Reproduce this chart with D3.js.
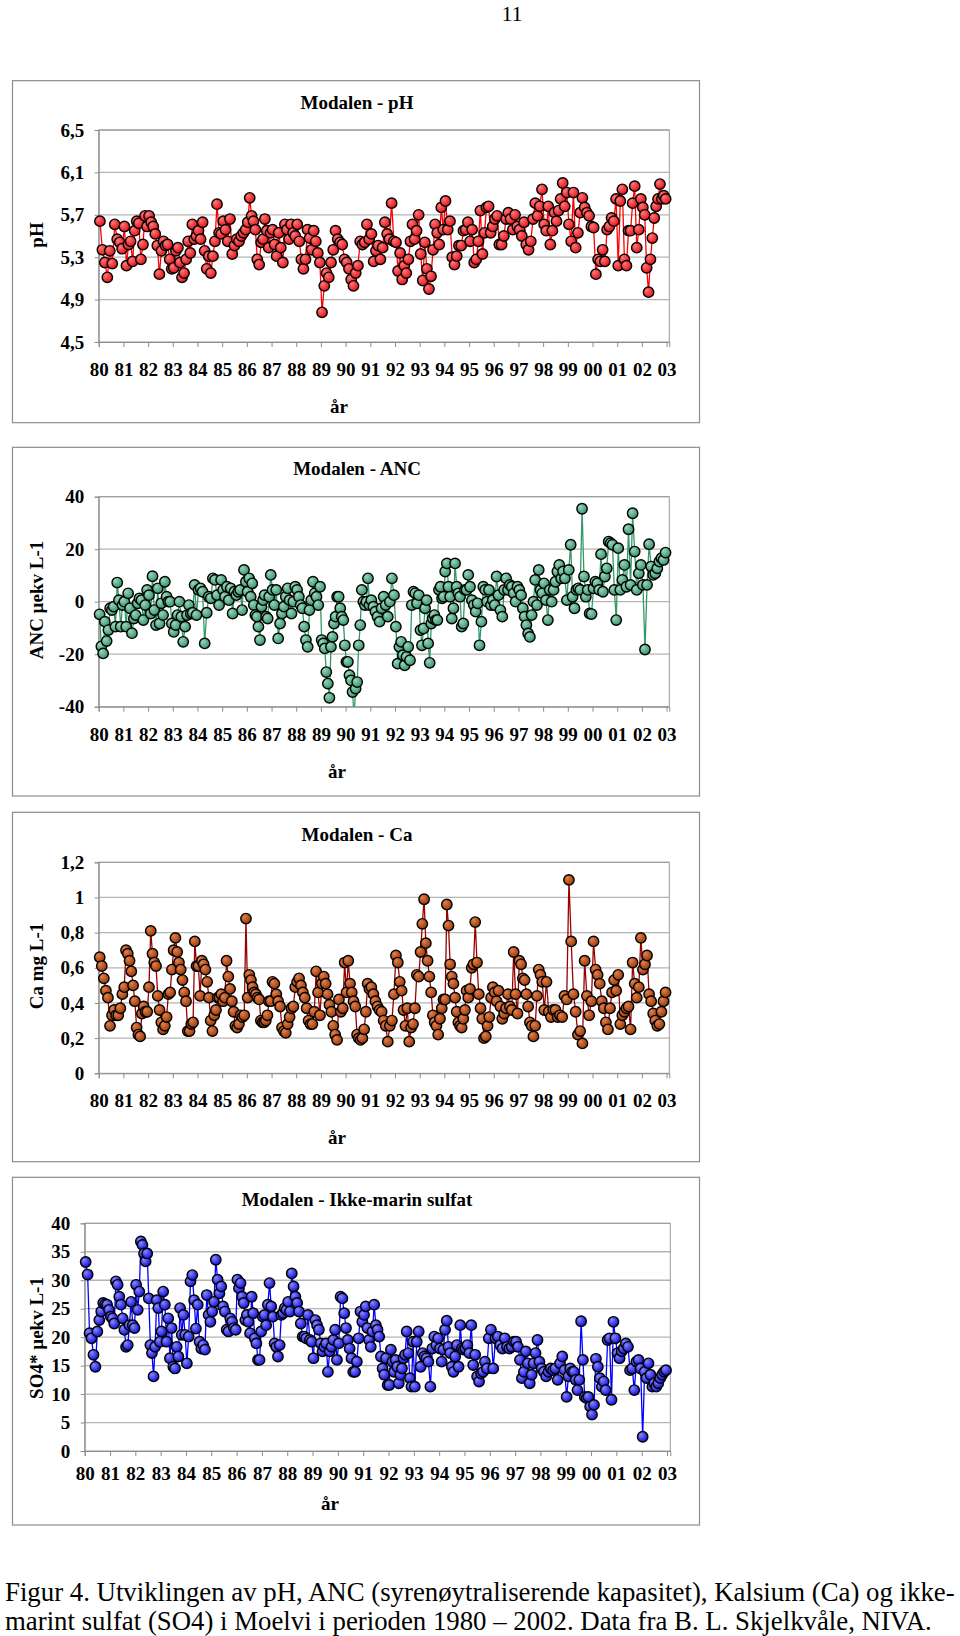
<!DOCTYPE html>
<html><head><meta charset="utf-8">
<script src="https://cdn.jsdelivr.net/npm/d3@7"></script>
<style>
body{margin:0;background:#fff}
svg{display:block}
text{font-family:"Liberation Serif","Times New Roman",serif}
</style>
</head><body>
<svg id="c" width="960" height="1636"></svg>
<script>
// ---------------- DATA ----------------
const years = d3.range(1980, 2003); // sampling years 1980..2002
const xTickYears = d3.range(1980, 2004);
const xTickLabels = ["80","81","82","83","84","85","86","87","88","89","90","91","92","93","94","95","96","97","98","99","00","01","02","03"];

const phTicks = [4.5, 4.9, 5.3, 5.7, 6.1, 6.5];
const phTickLabels = ["4,5","4,9","5,3","5,7","6,1","6,5"];
const ancTicks = [-40, -20, 0, 20, 40];
const ancTickLabels = ["-40","-20","0","20","40"];
const caTicks = [0, 0.2, 0.4, 0.6, 0.8, 1.0, 1.2];
const caTickLabels = ["0","0,2","0,4","0,6","0,8","1","1,2"];
const so4Ticks = [0, 5, 10, 15, 20, 25, 30, 35, 40];
const so4TickLabels = ["0","5","10","15","20","25","30","35","40"];

// pH, samples per year (1980..2002)
const phByYear = [
 [5.64,5.37,5.25,5.11,5.36,5.24,5.61,5.47,5.44,5.38],
 [5.59,5.22,5.42,5.45,5.26,5.55,5.64,5.62,5.28,5.42,5.69,5.59],
 [5.69,5.63,5.59,5.52,5.41,5.14,5.36,5.45,5.41,5.42,5.28,5.19],
 [5.20,5.36,5.39,5.25,5.11,5.15,5.28,5.45,5.34,5.61,5.47,5.50],
 [5.55,5.47,5.63,5.36,5.19,5.31,5.15,5.31,5.45,5.80,5.53,5.52],
 [5.64,5.56,5.45,5.66,5.33,5.41,5.47,5.45,5.50,5.53,5.56],
 [5.63,5.86,5.69,5.64,5.56,5.28,5.23,5.44,5.47,5.66,5.55,5.39,5.53],
 [5.56,5.42,5.31,5.53,5.39,5.25,5.61,5.56,5.47,5.61,5.53,5.50],
 [5.61,5.45,5.28,5.19,5.28,5.56,5.48,5.37,5.55,5.45,5.34,5.25],
 [4.78,5.03,5.15,5.11,5.25,5.37,5.55,5.47,5.44,5.42,5.28],
 [5.25,5.19,5.09,5.03,5.15,5.22,5.45,5.42,5.44,5.61,5.47],
 [5.52,5.26,5.36,5.41,5.28,5.39,5.63,5.52,5.47,5.81,5.45],
 [5.44,5.17,5.34,5.09,5.22,5.15,5.28,5.45,5.61,5.47,5.55,5.70],
 [5.33,5.08,5.44,5.19,5.00,5.12,5.37,5.61,5.53,5.42,5.77,5.56],
 [5.83,5.56,5.64,5.30,5.23,5.31,5.41,5.41,5.55,5.56,5.63],
 [5.45,5.56,5.25,5.28,5.45,5.74,5.33,5.53,5.77,5.78,5.53,5.59],
 [5.66,5.69,5.42,5.42,5.50,5.66,5.72,5.66,5.56,5.70,5.59],
 [5.56,5.50,5.63,5.42,5.37,5.45,5.66,5.81,5.69,5.78,5.94],
 [5.61,5.55,5.78,5.42,5.55,5.72,5.64,5.74,5.85,6.00,5.78,5.91],
 [5.61,5.45,5.91,5.39,5.53,5.72,5.86,5.77,5.72,5.69,5.59],
 [5.58,5.14,5.28,5.26,5.37,5.26,5.56,5.59,5.67,5.64,5.85],
 [5.22,5.83,5.94,5.28,5.22,5.55,5.55,5.81,5.97,5.39,5.56,5.85],
 [5.77,5.70,5.20,4.97,5.28,5.48,5.67,5.78,5.85,5.99,5.85,5.88,5.85]
];

// ANC (µekv/L), samples per year
const ancByYear = [
 [-4.8,-17,-19.7,-7.6,-15,-10.8,-2.5,-3.2,-1.9,-9.5,7.3,0.6,-9.5,-1.3],
 [0,-9.5,3.2,-2.5,-12,-6.4,-5.1,-0.6,1.3,0.6,-7,-1.3,4.5],
 [2.5,-4.5,9.7,-3.2,-8.9,5.1,-8.3,-0.6,-5.1,7.6,1.9,0,0,-8.3],
 [-11.5,-8.9,-5.1,0,-5.7,-15.3,-9.5,-5.1,-1.3,-4.5,-4.2,6.4,-5.1],
 [4.5,5.1,3.8,-15.9,-4.2,1.9,1.3,8.9,8.3,2.5,-1.3,8.3],
 [4.5,1.9,5.7,0.6,5.1,-4.5,3.8,2.5,3.8,4.5,-3.2,12.1,7.6],
 [3.8,8.9,1.9,7.0,-1.3,-5.1,-5.7,-9.5,-14.6,-1.9,0.6,2.5,-5.7,-6.4,1.9,10.2],
 [4.5,-1.3,4.5,-14,-8.3,-4.5,-1.9,1.9,5.1,0.6,-4.5,0,5.7],
 [4.5,1.9,-1.3,-2.5,-9.5,-14.6,-17.2,-3.2,0.6,7.6,3.2,1.9,-1.3,5.7],
 [-14.6,-15.9,-17.8,-26.8,-31.2,-36.6,-17.2,-13.4,-8.3,-5.7,1.9,1.9,-2.5,-5.7,-7.0,-16.6],
 [-22.9,-22.9,-28,-30,-34.4,-44,-33.1,-30.6,-16.6,-8.9,4.5,0,-1.3,0,8.9,-1.3],
 [0.6,-1.9,-3.8,-5.7,-7.6,-2.5,1.9,-1.3,-5.7,0,8.9,2.5],
 [-9.5,-23.6,-17.2,-15.3,-20.4,-24.2,-21,-17.2,-22.3,-1.3,3.8,3.2,-0.6,2.5],
 [-10.8,-16.6,-10.2,-2.5,0.6,-15.9,-23.3,-8.3,-6.4,-5.1,-7.0,-7.0,4.5,5.7,1.3,1.9],
 [11.5,14.6,5.7,1.9,-6.4,-2.5,14.6,5.7,3.2,1.9,-9.5,-8.3,4.5,4.5,10.2],
 [5.7,0.6,-1.3,-3.8,-0.6,-16.6,-7.6,5.7,4.5,0,4.5,-1.3,0.6],
 [-1.3,9.6,2.5,-3.2,-5.7,4.5,8.9,4.5,6.4,5.7,3.2,0,5.7],
 [4.5,2.5,-2.5,-5.7,-8.9,-12.1,-13.4,-5.1,0,8.3,-1.3,12.1,4.5,3.2],
 [7.0,0.6,-7.0,4.5,0,4.5,7.6,11.5,14,8.9,11.5,8.9,0.6],
 [12.1,21.7,1.9,-2.5,4.5,5.1,4.5,35.4,9.6,1.9,4.5,-4.5,-4.7],
 [5.1,7.6,7.0,4.5,18.1,3.8,9.6,12.7,22.9,22.3,21.7,4.5,-7.0],
 [20.4,4.5,8.3,14,5.7,27.6,6.4,33.7,19.1,4.5,10.8,14],
 [6.4,-18.2,6.4,21.9,13.4,10.2,10.8,12.7,15.3,16.6,15.9,18.7]
];

// Ca (mg/L), samples per year
const caByYear = [
 [0.66,0.61,0.54,0.47,0.43,0.27,0.33,0.36,0.33,0.33,0.37,0.45],
 [0.49,0.70,0.68,0.64,0.58,0.50,0.41,0.26,0.22,0.21,0.34,0.38,0.35,0.35],
 [0.49,0.81,0.68,0.63,0.61,0.44,0.36,0.29,0.25,0.27,0.32,0.45,0.46,0.59],
 [0.70,0.77,0.69,0.63,0.59,0.53,0.46,0.41,0.24,0.24,0.28,0.29,0.75,0.61],
 [0.61,0.44,0.64,0.62,0.59,0.52,0.43,0.30,0.24,0.33,0.36,0.43,0.43,0.45],
 [0.41,0.43,0.64,0.55,0.48,0.41,0.35,0.27,0.26,0.28,0.33,0.32,0.33,0.88],
 [0.43,0.56,0.53,0.49,0.46,0.45,0.43,0.42,0.30,0.29,0.29,0.30,0.33,0.41,0.41],
 [0.52,0.51,0.45,0.41,0.38,0.26,0.24,0.23,0.28,0.32,0.37,0.38,0.49],
 [0.52,0.54,0.50,0.46,0.43,0.37,0.30,0.28,0.28,0.35,0.58,0.46,0.33],
 [0.51,0.55,0.51,0.45,0.39,0.35,0.27,0.22,0.19,0.42,0.35,0.37,0.63],
 [0.46,0.64,0.51,0.46,0.41,0.38,0.22,0.20,0.19,0.20,0.25,0.35,0.51,0.48],
 [0.49,0.45,0.41,0.38,0.36,0.35,0.30,0.27,0.18,0.27,0.30,0.45],
 [0.67,0.63,0.52,0.47,0.36,0.27,0.37,0.18,0.26,0.28,0.37,0.56,0.55],
 [0.69,0.85,0.99,0.74,0.64,0.55,0.46,0.33,0.29,0.27,0.22,0.31,0.37,0.42],
 [0.42,0.96,0.84,0.62,0.55,0.51,0.43,0.35,0.29,0.27,0.26,0.31,0.36,0.47,0.43],
 [0.48,0.60,0.62,0.86,0.63,0.45,0.37,0.31,0.20,0.21,0.27,0.32,0.43,0.49],
 [0.46,0.41,0.47,0.38,0.31,0.34,0.37,0.45,0.38,0.36,0.69,0.45,0.34],
 [0.64,0.62,0.54,0.53,0.45,0.38,0.29,0.27,0.21,0.27,0.44,0.59,0.56,0.52],
 [0.36,0.52,0.35,0.32,0.36,0.36,0.32,0.33,0.32,0.44,0.42],
 [1.10,0.75,0.45,0.35,0.22,0.24,0.17,0.64,0.44,0.33,0.41],
 [0.75,0.59,0.56,0.51,0.41,0.37,0.29,0.25,0.37,0.46,0.53,0.47],
 [0.56,0.28,0.33,0.35,0.37,0.38,0.25,0.63,0.51,0.43,0.49,0.77],
 [0.59,0.62,0.67,0.45,0.41,0.34,0.30,0.27,0.28,0.35,0.41,0.46]
];

// Non-marine sulphate SO4* (µekv/L), samples per year
const so4ByYear = [
 [33.2,31.0,20.7,19.8,16.9,14.8,21.0,23.0,24.5,26.0,25.8,25.7,24.8],
 [23.6,23.3,22.4,29.8,29.2,27.1,25.7,23.3,21.3,18.3,18.6,22.1,26.2,22.1,21.6],
 [29.2,24.8,28.0,36.8,36.2,34.7,33.3,34.7,26.8,18.6,17.2,13.1,18.3,26.5,25.1,19.2],
 [21.0,28.0,25.7,19.2,23.3,16.3,21.6,14.8,14.5,18.3,16.6,25.1,20.4,23.9,20.4],
 [15.4,20.1,29.8,30.9,26.5,21.5,25.7,19.2,18.0,18.6,17.8,27.4,23.9,22.7],
 [24.5,26.2,33.6,30.1,27.7,28.9,25.4,24.5,21.3,21.0,23.3,22.7,21.6,21.3],
 [30.1,28.6,29.5,27.1,26.0,23.0,23.9,22.7,20.7,27.1,24.2,19.8,18.9,16.0,16.0,21.0],
 [23.6,23.9,22.1,25.7,29.5,25.4,23.6,18.9,18.3,16.6,18.6,23.9,24.2,25.1,24.8],
 [26.2,24.5,31.2,28.9,27.1,26.0,24.5,22.4,20.1,20.1,19.8,23.9,19.5,19.2],
 [16.3,23.0,22.1,21.3,18.9,17.5,18.3,18.9,13.9,17.5,18.3,19.5,21.3,16.0],
 [18.9,27.1,26.8,24.2,21.6,19.5,18.0,16.3,13.9,13.9,15.7,19.8,24.5,22.7],
 [23.9,25.4,21.6,19.5,18.3,21.0,25.7,22.1,21.3,20.1,16.6,14.5,13.4,16.3,11.6],
 [11.6,17.8,15.7,13.9,16.0,14.8,11.9,13.4,14.5,16.3,16.9,21.0,17.2,12.8,11.3,19.2],
 [11.3,19.2,21.0,14.8,17.2,16.6,16.3,15.7,11.3,18.0,20.1,18.6,19.8],
 [18.0,15.7,17.8,21.3,22.9,18.3,17.2,14.8,13.9,16.6,18.6,14.8,22.1,18.0,17.8],
 [18.0,18.6,17.2,22.1,15.1,16.9,13.1,12.2,13.6,13.9,15.7,14.5,19.8],
 [21.3,14.5,19.8,20.1,18.6,18.0,19.8,18.3,18.0,18.3,19.2],
 [19.2,18.3,16.0,12.8,13.9,17.5,15.4,11.9,13.4,15.4,17.2,19.5,15.7],
 [14.5,13.9,13.1,13.9,14.5,14.2,14.5,12.5,15.4,16.6,14.2],
 [9.5,13.1,14.5,13.9,13.9,12.5,10.7,12.5,22.8,16.0,9.5,9.3,9.5,7.8],
 [6.4,8.1,16.2,14.8,12.8,11.3,12.2,10.7,19.5,19.8,9.0,22.7,19.8],
 [17.2,16.3,17.5,18.0,18.9,18.3,14.2,14.5,10.7,15.7,16.0,14.5],
 [2.5,13.9,12.8,15.4,13.4,11.3,11.9,11.3,11.9,12.8,13.4,13.9,14.2]
];

const pageNumber = "11";
const captionLines = [
 "Figur 4. Utviklingen av pH, ANC (syrenøytraliserende kapasitet), Kalsium (Ca) og ikke-",
 "marint sulfat (SO4) i Moelvi i perioden 1980 – 2002. Data fra B. L. Skjelkvåle, NIVA."
];

// ---------------- HELPERS ----------------
// samples are taken through each year; place them evenly inside their year
function toSeries(byYear){
  const out = [];
  byYear.forEach((vals, yi) => {
    vals.forEach((v, i) => out.push({t: years[yi] + (i + 0.5) / vals.length, v}));
  });
  return out;
}

const svg = d3.select("#c");
const defs = svg.append("defs");
const FONT = '"Liberation Serif","Times New Roman",serif';

svg.append("text").attr("x", 512).attr("y", 21).attr("text-anchor", "middle")
  .attr("font-size", 22).text(pageNumber);

function gradient(id, light, base){
  const g = defs.append("radialGradient").attr("id", id)
    .attr("cx", "40%").attr("cy", "40%").attr("r", "60%").attr("fx", "32%").attr("fy", "30%");
  g.append("stop").attr("offset", "0%").attr("stop-color", light);
  g.append("stop").attr("offset", "100%").attr("stop-color", base);
}

const panels = [
  {id:"ph", title:"Modalen - pH", ylabel:"pH", data:phByYear, ticks:phTicks, tickLabels:phTickLabels,
   ydom:[4.5,6.5], box:[12.5,80.7,699.5,422.7], px:[98.7,669.3], py:[342,130], xend:2003.11,
   titleY:102.7, xlabY:28.5, arY:64.7, arX:339, ylabY:235,
   line:"#ff0000", light:"#ff7a7a", base:"#e3141a"},
  {id:"anc", title:"Modalen - ANC", ylabel:"ANC µekv L-1", data:ancByYear, ticks:ancTicks, tickLabels:ancTickLabels,
   ydom:[-40,40], box:[12.5,447.3,699.5,796], px:[98.7,669.3], py:[706.7,496.7], xend:2003.11,
   titleY:468.3, xlabY:28.3, arY:65, arX:337, ylabY:600,
   line:"#339966", light:"#9ad8b8", base:"#3a9272"},
  {id:"ca", title:"Modalen - Ca", ylabel:"Ca mg L-1", data:caByYear, ticks:caTicks, tickLabels:caTickLabels,
   ydom:[0,1.2], box:[12.5,812.3,699.5,1161.7], px:[98.7,669.3], py:[1073.3,862.3], xend:2003.11,
   titleY:834.3, xlabY:28, arY:64.5, arX:337, ylabY:966,
   line:"#990000", light:"#e4824c", base:"#9a3a0c"},
  {id:"so4", title:"Modalen - Ikke-marin sulfat", ylabel:"SO4* µekv L-1", data:so4ByYear, ticks:so4Ticks, tickLabels:so4TickLabels,
   ydom:[0,40], box:[12.5,1177.3,699.5,1525], px:[84.7,670.3], py:[1451,1223.3], xend:2003.13,
   titleY:1199.3, xlabY:23, arY:53, arX:330, ylabY:1338,
   line:"#0000ff", light:"#8a8aff", base:"#1212d8"}
];

panels.forEach(p => {
  gradient("g-" + p.id, p.light, p.base);
  const [bx0, by0, bx1, by1] = p.box;
  svg.append("rect").attr("x", bx0).attr("y", by0).attr("width", bx1 - bx0).attr("height", by1 - by0)
    .attr("fill", "#fff").attr("stroke", "#8c8c8c").attr("stroke-width", 1.2);

  const x = d3.scaleLinear().domain([1980, p.xend]).range(p.px);
  const y = d3.scaleLinear().domain(p.ydom).range(p.py);
  const left = p.px[0], right = p.px[1], top = p.py[1], bottom = p.py[0];
  const g = svg.append("g");

  // gridlines
  g.selectAll("line.grid").data(p.ticks.filter(t => t !== p.ydom[0])).enter().append("line")
    .attr("x1", left).attr("x2", right).attr("y1", d => y(d)).attr("y2", d => y(d))
    .attr("stroke", "#b4b4b4").attr("stroke-width", 1.3);
  // plot border
  g.append("rect").attr("x", left).attr("y", top).attr("width", right - left).attr("height", bottom - top)
    .attr("fill", "none").attr("stroke", "#9a9a9a").attr("stroke-width", 1);

  // y axis
  const ya = g.append("g").attr("transform", `translate(${left},0)`)
    .call(d3.axisLeft(y).tickValues(p.ticks).tickSize(4).tickPadding(10.5)
      .tickFormat((d, i) => p.tickLabels[i]));
  ya.select(".domain").attr("stroke", "#8c8c8c");
  ya.selectAll(".tick line").attr("stroke", "#8c8c8c");
  ya.selectAll("text").attr("font-family", FONT).attr("font-size", 19).attr("font-weight", "bold").attr("fill", "#000");

  // x axis
  const xa = g.append("g").attr("transform", `translate(0,${bottom})`)
    .call(d3.axisBottom(x).tickValues(xTickYears).tickSize(5).tickPadding(p.xlabY - 7.5 - 5)
      .tickFormat((d, i) => xTickLabels[i]));
  xa.select(".domain").attr("stroke", "#8c8c8c");
  xa.selectAll(".tick line").attr("stroke", "#8c8c8c");
  xa.selectAll("text").attr("font-family", FONT).attr("font-size", 19).attr("font-weight", "bold").attr("fill", "#000");

  // titles
  svg.append("text").attr("x", 357).attr("y", p.titleY + 6.5).attr("text-anchor", "middle")
    .attr("font-size", 19).attr("font-weight", "bold").text(p.title);
  svg.append("text").attr("x", p.arX).attr("y", bottom + p.arY + 6).attr("text-anchor", "middle")
    .attr("font-size", 19).attr("font-weight", "bold").text("år");
  svg.append("text").attr("transform", `translate(36,${p.ylabY}) rotate(-90)`).attr("text-anchor", "middle")
    .attr("dy", "0.35em").attr("font-size", 19).attr("font-weight", "bold").text(p.ylabel);

  // series
  const series = toSeries(p.data);
  defs.append("clipPath").attr("id", "clip-" + p.id).append("rect")
    .attr("x", left).attr("y", top).attr("width", right - left).attr("height", bottom - top);
  const lineGen = d3.line().x(d => x(d.t)).y(d => y(d.v));
  g.append("path").datum(series).attr("d", lineGen).attr("fill", "none")
    .attr("stroke", p.line).attr("stroke-width", 1.3).attr("clip-path", `url(#clip-${p.id})`);
  g.selectAll("circle.m").data(series.filter(d => d.v >= p.ydom[0] && d.v <= p.ydom[1])).enter()
    .append("circle").attr("cx", d => x(d.t)).attr("cy", d => y(d.v)).attr("r", 5.2)
    .attr("fill", `url(#g-${p.id})`).attr("stroke", "#000").attr("stroke-width", 1.4);
});

// caption
captionLines.forEach((t, i) => {
  svg.append("text").attr("x", 5).attr("y", 1601 + i * 29).attr("font-size", 26.8).text(t);
});
</script>
</body></html>
